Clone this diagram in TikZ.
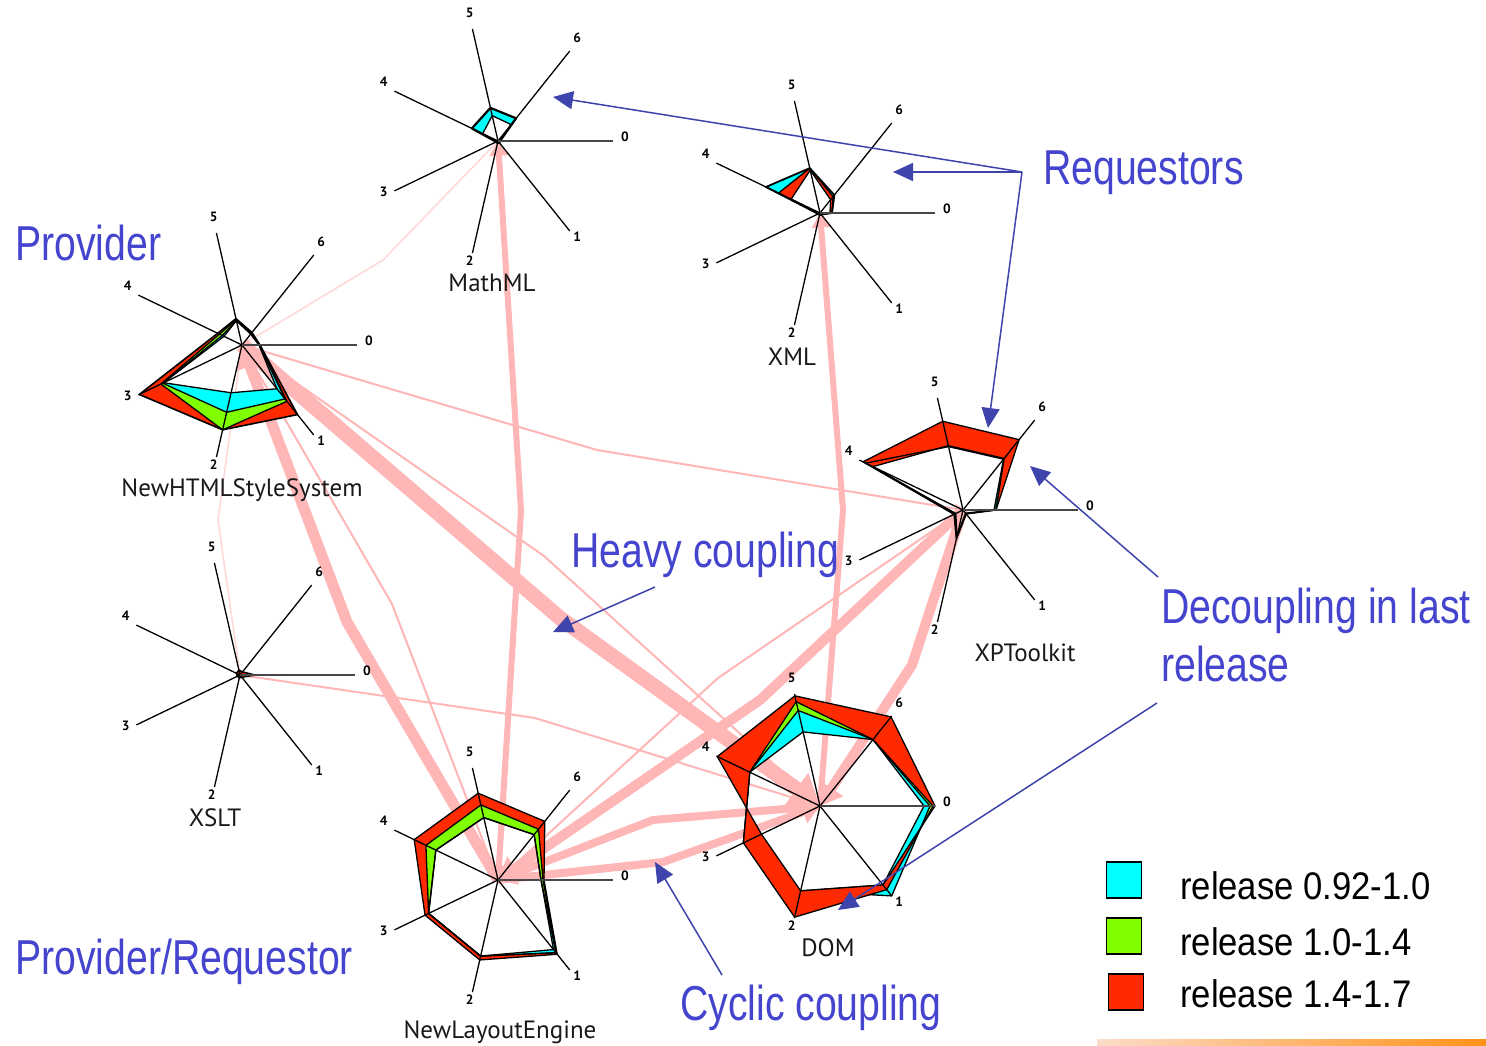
\documentclass[tikz,border=0pt]{standalone}
\usepackage{fontspec}
\setmainfont{Liberation Sans}
\newfontfamily\notefont[FakeStretch=0.8]{Liberation Sans}
\newfontfamily\legfont[FakeStretch=0.9]{Liberation Sans}
\newfontfamily\namefont{PT Sans}
\usetikzlibrary{arrows.meta,calc}

\definecolor{bandcyan}{RGB}{0,255,255}
\definecolor{bandgreen}{RGB}{128,255,0}
\definecolor{bandred}{RGB}{255,42,0}
\definecolor{edgepink}{RGB}{255,182,182}
\definecolor{edgefaint}{RGB}{255,216,216}
\definecolor{notetext}{RGB}{68,68,206}
\definecolor{notearrow}{RGB}{62,68,172}
\definecolor{barlight}{RGB}{252,220,200}
\definecolor{barorange}{RGB}{255,146,24}

% seven radial values -> named vertices #1-0 ... #1-6 around centre #2
\newcommand\kivpts[3]{\foreach \rr [count=\ii from 0] in {#3} {\coordinate (#1-\ii) at ($(#2)+(\ii*360/7:\rr)$);}}
\newcommand\kivpoly[1]{(#1-0) -- (#1-1) -- (#1-2) -- (#1-3) -- (#1-4) -- (#1-5) -- (#1-6) -- cycle}
% the seven axes of a Kiviat star with their numbers
\newcommand\kivaxes[1]{%
  \foreach \k in {1,...,6} {\draw[kaxis] (#1) -- ($(#1)+(\k*360/7:115)$);}
  \draw[kaxiszero] (#1) -- ($(#1)+(0:115)$);
  \foreach \k in {0,...,6} {\node[kdigit] (#1-lab\k) at ($(#1)+(\k*360/7:127)+(0,-4)$) {\k};}}

\tikzset{
  kaxis/.style={draw=black, line width=1.3},
  kaxiszero/.style={draw=black!72, line width=1.8},
  kdigit/.style={font=\namefont\fontsize{13.5}{13.5}\selectfont\bfseries, inner sep=0},
  kname/.style={font=\namefont\fontsize{25}{25}\selectfont, inner sep=0, text=black!90},
  kline/.style={draw=black, line width=1.3, line join=round},
  pedge/.style={draw=edgepink, line join=round, -{Triangle[length=5pt 1.6,width=5pt 2.2]}},
  pedgeboth/.style={draw=edgepink, line join=round, {Triangle[length=5pt 1.6,width=5pt 2.2]}-{Triangle[length=5pt 1.6,width=5pt 2.2]}},
  pfaint/.style={draw=edgefaint, line width=1.6, line join=round, -{Triangle[length=6pt,width=6pt]}},
  notelabel/.style={font=\notefont\fontsize{49}{55}\selectfont, text=notetext, inner sep=0},
  note/.style={draw=notearrow, line width=1.5, -{Triangle[length=20pt,width=18pt]}},
  legbox/.style={draw=black, line width=1.3, minimum width=35, minimum height=36, inner sep=0},
  legtext/.style={font=\legfont\fontsize{38.5}{40}\selectfont, inner sep=0},
}

\begin{document}
\begin{tikzpicture}[x=1pt, y=-1pt]
\fill[white] (0,0) rectangle (1486,1046);
\useasboundingbox (0,0) rectangle (1486,1046);

% centres of the Kiviat stars
\coordinate (mathml) at (498,141);
\coordinate (xml) at (820,213);
\coordinate (nhss) at (242,345);
\coordinate (xslt) at (240,675);
\coordinate (xpt) at (963,510);
\coordinate (nle) at (498,880);
\coordinate (dom) at (820,806);

% ---- coupling edges ----
\draw[pfaint] (mathml) -- (383,260) -- (nhss);
\draw[pfaint] (xslt) -- (218,520) -- (nhss);
\draw[pedge, line width=2] (nhss) -- (597,450) -- (xpt);
\draw[pedge, line width=2] (nhss) -- (544,556) -- (dom);
\draw[pedge, line width=2] (nhss) -- (392,604) -- (nle);
\draw[pedge, line width=2] (xslt) -- (535,718) -- (dom);
\draw[pedge, line width=2] (xpt) -- (718,678) -- (nle);
\draw[pedgeboth, line width=6] (nle) -- (521,511) -- (mathml);
\draw[pedge, line width=6] (dom) -- (843,510) -- (xml);
\draw[pedge, line width=8] (dom) -- (653,820) -- (nle);
\draw[pedge, line width=8] (nle) -- (663,862) -- (dom);
\draw[pedge, line width=11] (nle) -- (347,622) -- (nhss);
\draw[pedge, line width=10] (xpt) -- (760,700) -- (nle);
\draw[pedge, line width=10] (xpt) -- (912,665) -- (dom);
\draw[pedge, line width=15] (nhss) -- (560,618) -- (dom);

% ---- MathML ----
\kivpts{mO}{mathml}{2,2,2,2,29,34,29}
\kivpts{mI}{mathml}{2,2,2,2,17,26,21}
\fill[bandcyan, even odd rule] \kivpoly{mO} \kivpoly{mI};
\draw[kline] \kivpoly{mI};
\draw[kline, line width=2.2] \kivpoly{mO};
\kivaxes{mathml}

% ---- XML ----
\kivpts{xO}{xml}{12,2,2,2,60,46,23}
\kivpts{xB}{xml}{12,2,2,2,46,46,21}
\kivpts{xC}{xml}{10,2,2,2,32,44,17}
\fill[bandcyan, even odd rule] \kivpoly{xO} \kivpoly{xB};
\fill[bandred, even odd rule] \kivpoly{xB} \kivpoly{xC};
\draw[kline] \kivpoly{xC};
\draw[kline] \kivpoly{xB};
\draw[kline, line width=1.8] \kivpoly{xO};
\kivaxes{xml}

% ---- NewHTMLStyleSystem ----
\kivpts{hO}{nhss}{18,89,87,114,27,27,16}
\kivpts{hR}{nhss}{18,72,87,90,25,26,15}
\kivpts{hG}{nhss}{17,69,69,88,22,25,14}
\kivpts{hC}{nhss}{17,56,49,87,20,25,14}
\fill[bandred, even odd rule] \kivpoly{hO} \kivpoly{hR};
\fill[bandgreen, even odd rule] \kivpoly{hR} \kivpoly{hG};
\fill[bandcyan, even odd rule] \kivpoly{hG} \kivpoly{hC};
\draw[kline] \kivpoly{hC};
\draw[kline] \kivpoly{hG};
\draw[kline] \kivpoly{hR};
\draw[kline, line width=1.6] \kivpoly{hO};
\kivaxes{nhss}

% ---- XSLT ----
\kivpts{sO}{xslt}{15,3,3,3,4,5,4}
\filldraw[fill=bandred, draw=black, line width=1.5, line join=round] \kivpoly{sO};
\kivaxes{xslt}

% ---- XPToolkit ----
\kivpts{tO}{xpt}{33,5,30,10,111,91,90}
\kivpts{tI}{xpt}{33,5,29,9,100,66,66}
\kivpts{tJ}{xpt}{31,4,27,8,108,65,65}
\fill[bandcyan!60!black, even odd rule] \kivpoly{tI} \kivpoly{tJ};
\fill[bandred, even odd rule] \kivpoly{tO} \kivpoly{tI};
\draw[kline] \kivpoly{tJ};
\draw[kline] \kivpoly{tI};
\draw[kline] \kivpoly{tO};
\kivaxes{xpt}

% ---- NewLayoutEngine ----
\kivpts{nO}{nle}{46,95,82,81,93,89,75}
\kivpts{nR}{nle}{45,93,78,77,80,77,65}
\kivpts{nG}{nle}{43,93,78,77,69,64,58}
\kivpts{nC}{nle}{43,89,78,77,69,64,58}
\fill[bandred, even odd rule] \kivpoly{nO} \kivpoly{nR};
\fill[bandgreen, even odd rule] \kivpoly{nR} \kivpoly{nG};
\fill[bandcyan, even odd rule] \kivpoly{nG} \kivpoly{nC};
\draw[kline] \kivpoly{nC};
\draw[kline] \kivpoly{nG};
\draw[kline] \kivpoly{nR};
\draw[kline] \kivpoly{nO};
\kivaxes{nle}

% ---- DOM ----
\kivpts{dA}{dom}{115,101,87,65,114,113,114}
\kivpts{dB}{dom}{113,107,114,85,78,107,85}
\kivpts{dG}{dom}{110,115,87,85,78,98,85}
\kivpts{dW}{dom}{104,101,87,85,78,76,85}
\fill[bandgreen, even odd rule] \kivpoly{dB} \kivpoly{dG};
\fill[bandcyan, even odd rule] \kivpoly{dG} \kivpoly{dW};
\draw[kline] \kivpoly{dG};
\draw[kline] \kivpoly{dW};
\fill[bandred, even odd rule] \kivpoly{dA} \kivpoly{dB};
\draw[kline] \kivpoly{dA};
\draw[kline] \kivpoly{dB};
\kivaxes{dom}

% ---- component names ----
\node[kname] (mathmlname) at (492,283) {MathML};
\node[kname] (xmlname) at (792,357) {XML};
\node[kname] (nhssname) at (242,490) {NewHTMLStyleSystem};
\node[kname] (xsltname) at (215,818) {XSLT};
\node[kname] (xptname) at (1025,653) {XPToolkit};
\node[kname] (domname) at (828,948) {DOM};
\node[kname] (nlename) at (500,1032) {NewLayoutEngine};

% ---- annotations ----
\node[notelabel, anchor=base west] (provider) at (15,260) {Provider};
\node[notelabel, anchor=base west] (requestors) at (1043,184) {Requestors};
\node[notelabel, anchor=base west] (heavy) at (571,567) {Heavy coupling};
\node[notelabel, anchor=base west] (decoupling) at (1161,623) {Decoupling in last};
\node[notelabel, anchor=base west] (decoupling2) at (1161,681) {release};
\node[notelabel, anchor=base west] (provreq) at (15,974) {Provider/Requestor};
\node[notelabel, anchor=base west] (cyclic) at (680,1020) {Cyclic coupling};

\coordinate (reqhub) at (1022,172);
\coordinate (tipmath) at (553,97);
\coordinate (tipxml) at (893,172);
\coordinate (tipxpt) at (988,428);
\coordinate (heavyfrom) at (655,587);
\coordinate (tipheavy) at (553,632);
\coordinate (decfromA) at (1158,577);
\coordinate (tipdecA) at (1030,466);
\coordinate (decfromB) at (1157,703);
\coordinate (tipdecB) at (838,910);
\coordinate (cycfrom) at (722,975);
\coordinate (tipcyc) at (655,862);

\draw[note] (reqhub) -- (tipmath);
\draw[note] (reqhub) -- (tipxml);
\draw[note] (reqhub) -- (tipxpt);
\draw[note] (heavyfrom) -- (tipheavy);
\draw[note] (decfromA) -- (tipdecA);
\draw[note] (decfromB) -- (tipdecB);
\draw[note] (cycfrom) -- (tipcyc);

% ---- legend ----
\node[legbox, fill=bandcyan] (legcyan) at (1124,880) {};
\node[legbox, fill=bandgreen] (leggreen) at (1124,936) {};
\node[legbox, fill=bandred] (legred) at (1126,992) {};
\node[legtext, anchor=base west] (legcyantext) at (1180,899) {release 0.92-1.0};
\node[legtext, anchor=base west] (leggreentext) at (1180,955) {release 1.0-1.4};
\node[legtext, anchor=base west] (legredtext) at (1180,1007) {release 1.4-1.7};

% ---- bottom rule ----
\shade[left color=barlight, right color=barorange] (1097,1039) rectangle (1486,1046);
\end{tikzpicture}
\end{document}
